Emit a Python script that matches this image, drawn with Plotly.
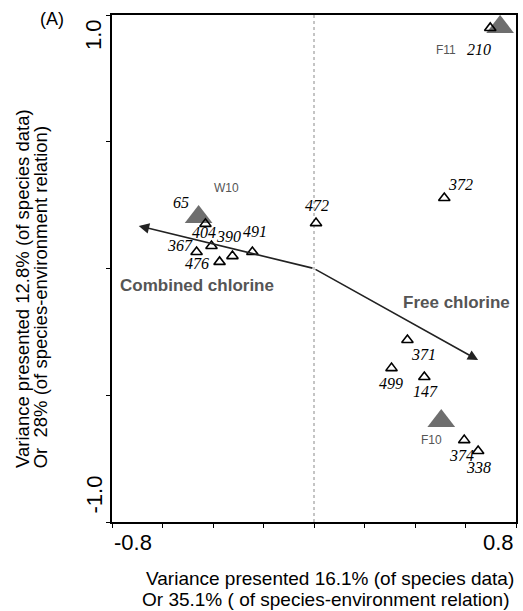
import plotly.graph_objects as go

# ---- data ----
site_labels = ["210", "372", "472", "65", "404", "390", "491", "367", "476",
               "371", "499", "147", "374", "338"]
site_x = [0.698, 0.516, 0.008, -0.430, -0.406, -0.323, -0.244, -0.465, -0.374,
          0.370, 0.307, 0.437, 0.595, 0.650]
site_y = [0.949, 0.278, 0.179, 0.176, 0.089, 0.049, 0.065, 0.065, 0.026,
          -0.282, -0.393, -0.428, -0.677, -0.720]

sample_labels = ["F11", "W10", "F10"]
sample_x = [0.737, -0.457, 0.504]
sample_y = [0.953, 0.203, -0.602]

env_labels = ["Combined chlorine", "Free chlorine"]
env_x = [-0.694, 0.650]
env_y = [0.168, -0.361]
env_label_x = [-0.465, 0.565]
env_label_y = [-0.068, -0.136]

x_ticks = [-0.8, -0.6, -0.4, -0.2, 0.0, 0.2, 0.4, 0.6, 0.8]
y_ticks = [-1.0, -0.5, 0.0, 0.5, 1.0]

x_title = ["Variance presented 16.1% (of species data)",
           "Or 35.1% ( of species-environment relation)"]
y_title = ["Variance presented 12.8% (of species data)",
           "Or  28% (of species-environment relation)"]
panel_label = "(A)"

# ---- styles (label offsets in px) ----
site_off = {"210": (-11, -22), "372": (16, 14), "472": (1, 18), "65": (-24, 21),
            "404": (-7, 13), "390": (-4, 20), "491": (3, 21), "367": (-17, 7),
            "476": (-23, -2), "371": (16, -15), "499": (-1, -15), "147": (1, -14),
            "374": (-3, -15), "338": (0, -16)}
sample_off = {"F11": (-54, -23), "W10": (28, 29), "F10": (-10, -19)}

SANS = "Liberation Sans, Arial, sans-serif"
SERIF = "Liberation Serif, Times New Roman, serif"

fig = go.Figure()

# dotted vertical line at x = 0
fig.add_trace(go.Scatter(x=[0, 0], y=[y_ticks[0], y_ticks[-1]], mode="lines",
                         line=dict(color="#8a8a8a", width=1, dash="dot"),
                         hoverinfo="skip", showlegend=False))

# sample (grey filled) triangles
fig.add_trace(go.Scatter(x=sample_x, y=sample_y, mode="markers",
                         marker=dict(symbol="triangle-up", size=24, color="#6e6e6e",
                                     line=dict(width=0)),
                         showlegend=False))

# site open triangles
fig.add_trace(go.Scatter(x=site_x, y=site_y, mode="markers",
                         marker=dict(symbol="triangle-up-open", size=10, color="black",
                                     line=dict(width=1.6, color="black")),
                         showlegend=False))

annotations = []
for lab, x, y in zip(site_labels, site_x, site_y):
    dx, dy = site_off[lab]
    annotations.append(dict(x=x, y=y, xref="x", yref="y", text="<i>%s</i>" % lab,
                            showarrow=False, xshift=dx, yshift=dy,
                            font=dict(family=SERIF, size=16, color="black")))
for lab, x, y in zip(sample_labels, sample_x, sample_y):
    dx, dy = sample_off[lab]
    annotations.append(dict(x=x, y=y, xref="x", yref="y", text=lab, showarrow=False,
                            xshift=dx, yshift=dy,
                            font=dict(family=SANS, size=12, color="#555555")))

# environmental arrows
for lab, x, y, lx, ly in zip(env_labels, env_x, env_y, env_label_x, env_label_y):
    annotations.append(dict(x=x, y=y, xref="x", yref="y", ax=0, ay=0,
                            axref="x", ayref="y", text="", showarrow=True,
                            arrowhead=2, arrowsize=1.3, arrowwidth=1.6,
                            arrowcolor="#222222"))
    annotations.append(dict(x=lx, y=ly, xref="x", yref="y", text="<b>%s</b>" % lab,
                            showarrow=False,
                            font=dict(family=SANS, size=17, color="#555555")))

# axis end labels
annotations += [
    dict(x=x_ticks[0], y=0, xref="x", yref="paper", text="%.1f" % x_ticks[0],
         showarrow=False, xanchor="left", yanchor="top", yshift=-6,
         font=dict(family=SANS, size=22, color="black")),
    dict(x=x_ticks[-1], y=0, xref="x", yref="paper", text="%.1f" % x_ticks[-1],
         showarrow=False, xanchor="right", yanchor="top", yshift=-6,
         font=dict(family=SANS, size=22, color="black")),
    dict(x=0, y=y_ticks[-1], xref="paper", yref="y", text="%.1f" % y_ticks[-1],
         showarrow=False, textangle=-90, xanchor="right", yanchor="top",
         xshift=-4, yshift=-2, font=dict(family=SANS, size=22, color="black")),
    dict(x=0, y=y_ticks[0], xref="paper", yref="y", text="%.1f" % y_ticks[0],
         showarrow=False, textangle=-90, xanchor="right", yanchor="bottom",
         xshift=-4, yshift=6, font=dict(family=SANS, size=22, color="black")),
]

# axis titles, one annotation per line
annotations += [
    dict(x=0.5394, y=-0.1105, xref="paper", yref="paper", text=x_title[0],
         showarrow=False, xanchor="center", yanchor="middle",
         font=dict(family=SANS, size=19, color="black")),
    dict(x=0.5296, y=-0.1538, xref="paper", yref="paper", text=x_title[1],
         showarrow=False, xanchor="center", yanchor="middle",
         font=dict(family=SANS, size=19, color="black")),
    dict(x=-0.2217, y=0.1026, xref="paper", yref="paper", text=y_title[0],
         showarrow=False, textangle=-90, xanchor="center", yanchor="bottom",
         font=dict(family=SANS, size=18.5, color="black")),
    dict(x=-0.1749, y=0.1026, xref="paper", yref="paper", text=y_title[1],
         showarrow=False, textangle=-90, xanchor="center", yanchor="bottom",
         font=dict(family=SANS, size=18.5, color="black")),
    dict(x=-0.1478, y=0.992, xref="paper", yref="paper", text=panel_label,
         showarrow=False, xanchor="center", yanchor="middle",
         font=dict(family=SANS, size=18, color="black")),
]

fig.update_layout(
    width=523, height=611,
    margin=dict(l=112, r=5, t=15, b=89),
    paper_bgcolor="white", plot_bgcolor="white",
    annotations=annotations,
    xaxis=dict(range=[x_ticks[0], x_ticks[-1]], tickvals=x_ticks, showticklabels=False,
               ticks="outside", ticklen=4, tickwidth=1.2, tickcolor="black",
               showline=True, linecolor="black", linewidth=1.6, mirror=True,
               showgrid=False, zeroline=False),
    yaxis=dict(range=[y_ticks[0], y_ticks[-1]], tickvals=y_ticks, showticklabels=False,
               ticks="outside", ticklen=4, tickwidth=1.2, tickcolor="black",
               showline=True, linecolor="black", linewidth=1.6, mirror=True,
               showgrid=False, zeroline=False),
)

fig.write_html("out.html")
